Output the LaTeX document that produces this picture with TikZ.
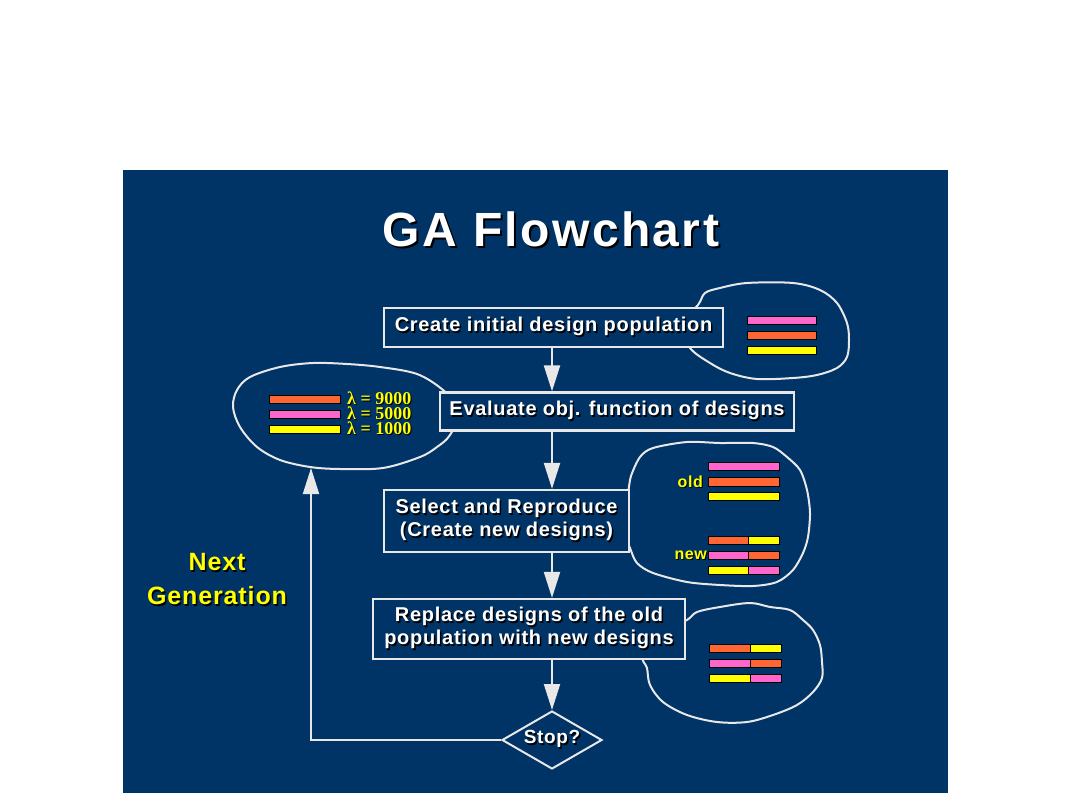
\documentclass[tikz,border=0pt]{standalone}
\usepackage{fontspec}
\setmainfont{Liberation Sans}
\newfontfamily\boxf{Liberation Sans}[LetterSpace=3.5]
\newfontfamily\titlef{Liberation Sans}[LetterSpace=5]
\newfontfamily\lamf{Liberation Serif}
\usetikzlibrary{arrows.meta,shapes.geometric}
\definecolor{bg}{RGB}{0,51,102}
\definecolor{lg}{RGB}{232,232,232}
\definecolor{bor}{RGB}{255,102,51}
\definecolor{bpk}{RGB}{255,102,204}
\definecolor{byl}{RGB}{255,255,0}
\newcommand\sh[2][1.5pt]{\leavevmode\rlap{\kern#1\raisebox{-#1}{\color{black}#2}}#2}
\newcommand\pbar[4]{\filldraw[fill=#4,draw=black,line width=1pt] (#1,#3-4) rectangle (#2,#3+4);}
\tikzset{
  box/.style={draw=lg, line width=2.2pt, fill=bg, text=white,
    font=\boxf\bfseries\fontsize{20}{23}\selectfont, inner sep=0pt, align=center},
  blob/.style={draw=lg, line width=2pt},
  arr/.style={draw=lg, line width=2pt, -{Triangle[width=16pt,length=26pt,fill=lg]}},
  ylab/.style={text=byl, font=\boxf\bfseries\fontsize{16}{16}\selectfont, inner sep=0pt},
  lam/.style={text=byl, font=\lamf\bfseries\fontsize{18}{15}\selectfont, inner sep=0pt, anchor=west, align=left}
}
\begin{document}
\begin{tikzpicture}[x=1pt,y=-1pt]
\useasboundingbox (0,0) rectangle (1080,810);
\fill[white] (0,0) rectangle (1080,810);
\fill[bg] (123,170) rectangle (948,793);

% title
\node[text=white, font=\titlef\bfseries\fontsize{48}{54}\selectfont, anchor=base, inner sep=0pt] (title) at (551,247) {\sh[2pt]{GA Flowchart}};

% blobs
\draw[blob] plot[smooth cycle, tension=0.55] coordinates {(690,348) (710,363) (730,373) (757,379) (793,378) (817,375) (837,368) (847,357) (849,340) (847,323) (837,303) (820,290) (793,283) (747,283) (720,288) (705,293) (698,305) (680,325)};
\draw[blob] plot[smooth cycle, tension=0.55] coordinates {(233,407) (237,390) (250,377) (280,367) (313,363) (347,364) (380,367) (417,374) (443,390) (460,410) (450,435) (437,447) (420,457) (383,468) (340,469) (310,467) (280,460) (257,447) (240,427)};
\draw[blob] plot[smooth cycle, tension=0.5] coordinates {(631,476) (640,457) (653,448) (687,442) (720,443) (753,443) (773,447) (787,457) (800,470) (807,490) (810,513) (808,537) (803,553) (793,570) (777,582) (753,586) (720,585) (687,582) (653,573) (637,563) (630,548) (620,520) (628,492)};
\draw[blob] plot[smooth cycle, tension=0.55] coordinates {(687,620) (697,612) (720,607) (750,603) (770,607) (790,610) (803,620) (813,630) (820,645) (822,662) (822,678) (813,692) (797,705) (773,715) (747,722) (717,722) (687,715) (663,702) (650,685) (647,668) (643,655) (665,630)};

% boxes
\node[box, minimum width=339pt, minimum height=39pt] (b1) at (553.5,327.5) {\sh{Create initial design population}};
\node[box, minimum width=354pt, minimum height=38pt] (b2) at (617,411.5) {\sh{Evaluate obj. function of designs}};
\node[box, minimum width=245pt, minimum height=62pt] (b3) at (506.5,521) {\sh{Select and Reproduce}\\\sh{(Create new designs)}};
\node[box, minimum width=312pt, minimum height=60pt] (b4) at (529,629) {\sh{Replace designs of the old}\\\sh{population with new designs}};
\node[diamond, draw=lg, line width=2pt, fill=bg, aspect=1.72, minimum width=100pt, minimum height=58pt, inner sep=0pt, text=white, font=\boxf\bfseries\fontsize{19}{22}\selectfont] (stop) at (552,740) {\sh{Stop?}};

% arrows
\coordinate (ax) at (552,0);
\draw[arr] (b1.south -| ax) -- (b2.north -| ax);
\draw[arr] (b2.south -| ax) -- (b3.north -| ax);
\draw[arr] (b3.south -| ax) -- (b4.north -| ax);
\draw[arr] (b4.south -| ax) -- (stop.north);
\coordinate (ng) at (311,468);
\draw[arr] (stop.west) -| (ng);

% next generation
\node[text=byl, font=\boxf\bfseries\fontsize{25}{34}\selectfont, align=center, inner sep=0pt] (nextgen) at (217,580) {\sh{Next}\\\sh{Generation}};

% blob 1 bars
\pbar{747}{816}{320.5}{bpk}
\pbar{747}{816}{335.5}{bor}
\pbar{747}{816}{350.5}{byl}

% blob 2 bars and labels
\pbar{269}{340}{400}{bor}
\pbar{269}{340}{415}{bpk}
\pbar{269}{340}{429.5}{byl}
\node[lam] (lams) at (347,414) {\sh[1pt]{λ = 9000}\\\sh[1pt]{λ = 5000}\\\sh[1pt]{λ = 1000}};

% blob 3
\pbar{708}{779}{467}{bpk}
\pbar{708}{779}{482}{bor}
\pbar{708}{779}{496}{byl}
\pbar{708}{748}{540.5}{bor}\pbar{748}{779}{540.5}{byl}
\pbar{708}{748}{555.5}{bpk}\pbar{748}{779}{555.5}{bor}
\pbar{708}{748}{570}{byl}\pbar{748}{779}{570}{bpk}
\node[ylab, anchor=east] (old) at (703,482) {\sh[1pt]{old}};
\node[ylab, anchor=east] (new) at (707,556) {\sh[1pt]{new}};

% blob 4
\pbar{709}{750}{648}{bor}\pbar{750}{781}{648}{byl}
\pbar{709}{750}{663}{bpk}\pbar{750}{781}{663}{bor}
\pbar{709}{750}{678}{byl}\pbar{750}{781}{678}{bpk}
\end{tikzpicture}
\end{document}
